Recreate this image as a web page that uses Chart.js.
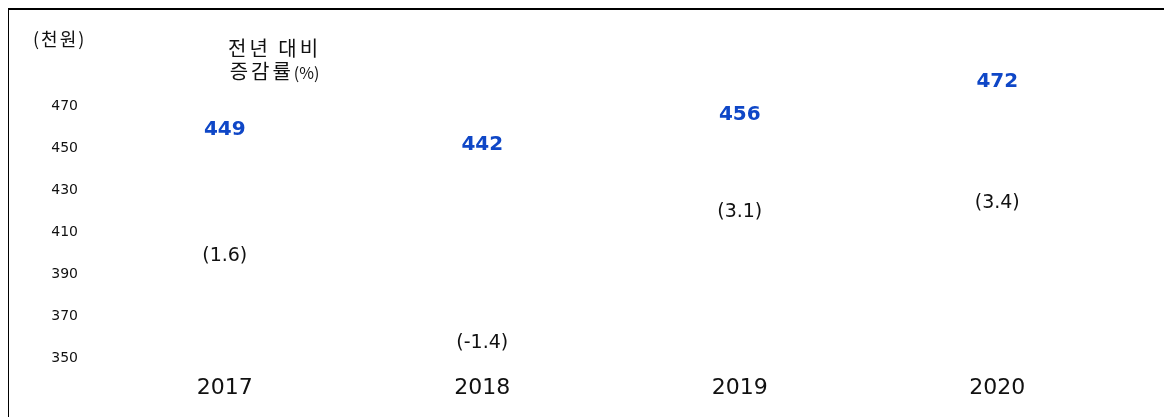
<!DOCTYPE html>
<html>
<head>
<meta charset="utf-8">
<script src="https://cdn.jsdelivr.net/npm/chart.js@4"></script>
<style>
  html, body { margin: 0; padding: 0; background: #fff; }
  #wrap { position: relative; width: 1164px; height: 417px; }
  #frame { position: absolute; left: 8px; top: 8px; right: 0; bottom: 0;
           border-left: 1.5px solid #000; border-top: 2px solid #000; }
  .note { position: absolute; font-family: "Noto Sans CJK KR", "DejaVu Sans", sans-serif; color: #111; }
  #unit { left: 33px; top: 25px; font-size: 18px; letter-spacing: 2px; }
  #rateTitle { left: 228px; top: 36px; font-size: 20px; line-height: 23px; letter-spacing: 3px; text-align: center; }
  #rateTitle small { font-size: 16px; letter-spacing: 0; }
</style>
</head>
<body>
<div id="wrap">
  <canvas id="myChart" width="1164" height="417"></canvas>
  <div id="frame"></div>
  <div class="note" id="unit">(천원)</div>
  <div class="note" id="rateTitle">전년 대비<br>증감률<small>(%)</small></div>
</div>
<script>
// 연도별 금액(천원)과 전년 대비 증감률(%)
const years = ['2017', '2018', '2019', '2020'];
const amounts = [449, 442, 456, 472];
const rates = [1.6, -1.4, 3.1, 3.4];
const yTicks = [350, 370, 390, 410, 430, 450, 470];

// 점은 보이지 않고 숫자만 그리는 플러그인
const valueLabels = {
    id: 'valueLabels',
    afterDatasetsDraw(chart) {
        let ctx = chart.ctx;
        ctx.save();
        ctx.textAlign = 'center';
        ctx.textBaseline = 'middle';
        chart.data.datasets.forEach((ds, i) => {
            let meta = chart.getDatasetMeta(i);
            meta.data.forEach((pt, j) => {
                let v = ds.data[j];
                if (ds.label === 'amount') {
                    ctx.font = 'bold 20px "DejaVu Sans", sans-serif';
                    ctx.fillStyle = '#0f47c7';
                    ctx.fillText(String(v), pt.x, pt.y - 21);
                } else {
                    ctx.font = '19px "DejaVu Sans", sans-serif';
                    ctx.fillStyle = '#111';
                    ctx.fillText('(' + v.toFixed(1) + ')', pt.x, pt.y);
                }
            });
        });
        ctx.restore();
    }
};

let chart = new Chart(document.getElementById('myChart').getContext('2d'), {
    type: 'line',
    data: {
        labels: years,
        datasets: [{
            label: 'amount',
            data: amounts,
            yAxisID: 'y',
            borderColor: 'rgba(0,0,0,0)',
            backgroundColor: 'rgba(0,0,0,0)',
            pointRadius: 0
        }, {
            label: 'rate',
            data: rates,
            yAxisID: 'y2',
            borderColor: 'rgba(0,0,0,0)',
            backgroundColor: 'rgba(0,0,0,0)',
            pointRadius: 0
        }]
    },
    options: {
        responsive: false,
        animation: false,
        layout: { padding: { top: 65, bottom: 16, left: 36, right: 38 } },
        plugins: { legend: { display: false }, tooltip: { enabled: false } },
        scales: {
            x: {
                offset: true,
                grid: { display: false, drawTicks: false },
                border: { display: false },
                ticks: { color: '#111', padding: 0, font: { family: 'DejaVu Sans', size: 22 } }
            },
            y: {
                min: 342,
                max: 490,
                afterFit(scale) { scale.width = 60; },
                afterBuildTicks(scale) { scale.ticks = yTicks.map(v => ({ value: v })); },
                grid: { display: false, drawTicks: false },
                border: { display: false },
                ticks: { color: '#111', padding: 18, font: { family: 'DejaVu Sans', size: 14 } }
            },
            y2: {
                display: false,
                min: -2.46,
                max: 8.11
            }
        }
    },
    plugins: [valueLabels]
});
</script>
</body>
</html>
